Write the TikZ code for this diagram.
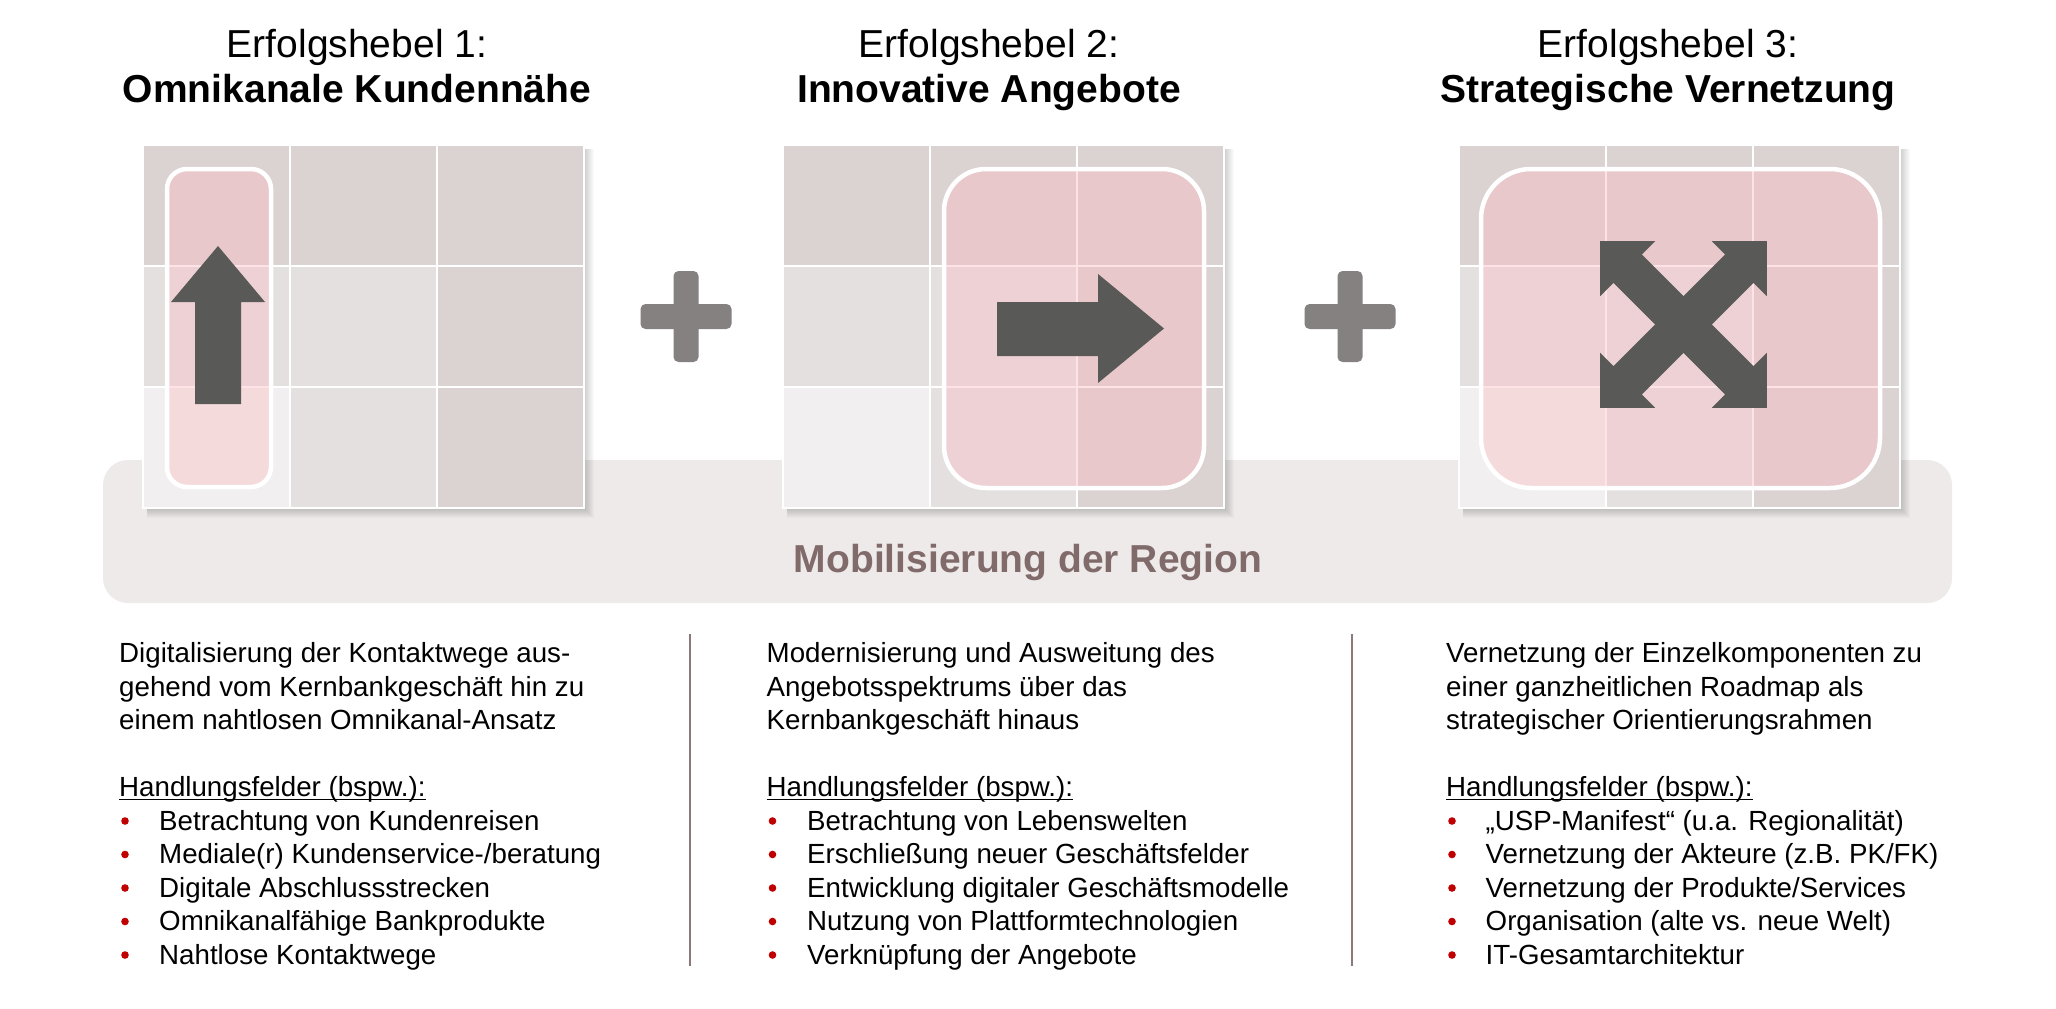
\documentclass[tikz,border=0pt]{standalone}
\usepackage{fontspec}
\setmainfont{Liberation Sans}
\usetikzlibrary{calc}
\definecolor{cellD}{RGB}{219,210,210}
\definecolor{cellM}{RGB}{228,224,224}
\definecolor{cellL}{RGB}{241,239,239}
\definecolor{pinkov}{RGB}{251,188,195}
\definecolor{arrowgray}{RGB}{89,89,87}
\definecolor{plusgray}{RGB}{133,129,128}
\definecolor{bandfill}{RGB}{238,234,234}
\definecolor{bandtext}{RGB}{128,106,106}
\definecolor{sepline}{RGB}{139,120,120}
\definecolor{bulletred}{RGB}{192,0,0}
\newcommand{\bodyfnt}{\fontsize{27.7}{33.5}\selectfont}
\newcommand{\headfnt}{\fontsize{39}{45}\selectfont}
\newcommand{\headbfnt}{\fontsize{39}{45}\selectfont\bfseries}
\newcommand{\drawgrid}[2]{%
  \foreach \k in {1,...,10} {\fill[black, opacity=0.02] (#1+4,#2+4) rectangle (#1+441+\k,#2+363+\k);}
  \fill[cellD] (#1,#2) rectangle ++(441,363);
  \fill[cellM] (#1,#2+121) rectangle ++(294,121);
  \fill[cellM] (#1+147,#2+242) rectangle ++(147,121);
  \fill[cellL] (#1,#2+242) rectangle ++(147,121);
  \draw[gridline] (#1,#2) rectangle ++(441,363);
  \draw[gridline] (#1+147,#2) -- ++(0,363) (#1+294,#2) -- ++(0,363)
                  (#1,#2+121) -- ++(441,0) (#1,#2+242) -- ++(441,0);
}
\tikzset{
  bodytxt/.style={anchor=base west, inner sep=0pt, font=\bodyfnt},
  headtxt/.style={anchor=base, inner sep=0pt, font=\headfnt},
  headbold/.style={anchor=base, inner sep=0pt, font=\headbfnt},
  pinkbox/.style={fill=pinkov, fill opacity=0.41, draw=white, draw opacity=1, line width=4.5pt},
  gridline/.style={draw=white, line width=2pt},
  arrowshape/.style={fill=arrowgray, draw=none},
  plusbar/.style={fill=plusgray, rounded corners=5pt},
  bulletdot/.style={fill=bulletred, draw=none},
  sep/.style={draw=sepline, line width=2pt},
  uline/.style={line width=1.8pt},
}
\begin{document}
\begin{tikzpicture}[x=1pt,y=-1pt]
\useasboundingbox (0,0) rectangle (2056,1009);
\fill[white] (0,0) rectangle (2056,1009);

% band
\fill[bandfill, rounded corners=25pt] (103,460) rectangle (1952,603);
\node[headbold, text=bandtext] (band) at (1028,572) {Mobilisierung der Region};

% grids
\drawgrid{143}{145}
\drawgrid{783}{145}
\drawgrid{1459}{145}

% overlays
\draw[pinkbox, rounded corners=20pt] (167,169) rectangle (271,487);
\draw[pinkbox, rounded corners=42pt] (944,169) rectangle (1204,488);
\draw[pinkbox, rounded corners=50pt] (1481,169) rectangle (1880,488);

% arrows
\fill[arrowshape] (218,246) -- (265,302) -- (241,302) -- (241,404) -- (195,404) -- (195,302) -- (171,302) -- cycle;
\fill[arrowshape] (997,302) -- (1098,302) -- (1098,274) -- (1164,328.5) -- (1098,383) -- (1098,356) -- (997,356) -- cycle;
\foreach \r in {45,-45} {
  \begin{scope}[shift={(1683.5,324.5)}, rotate=\r]
    \fill[arrowshape] (118,0) -- (79,39) -- (79,20) -- (-79,20) -- (-79,39) -- (-118,0)
      -- (-79,-39) -- (-79,-20) -- (79,-20) -- (79,-39) -- cycle;
  \end{scope}
}

% plus signs
\foreach \cx in {686,1350} {
  \fill[plusbar] (\cx-12.5,271) rectangle (\cx+12.5,362);
  \fill[plusbar] (\cx-45.5,304) rectangle (\cx+45.5,329);
}

% titles
\node[headtxt] (t1a) at (357,57) {Erfolgshebel 1:};
\node[headbold] (t1b) at (357,102.5) {Omnikanale Kundennähe};
\node[headtxt] (t2a) at (989,57) {Erfolgshebel 2:};
\node[headbold] (t2b) at (989,102.5) {Innovative Angebote};
\node[headtxt] (t3a) at (1668,57) {Erfolgshebel 3:};
\node[headbold] (t3b) at (1668,102.5) {Strategische Vernetzung};

% separators
\draw[sep] (689.5,634) -- (689.5,966);
\draw[sep] (1351.5,634) -- (1351.5,966);

% column 1
\node[bodytxt] (a1) at (119,662.5) {Digitalisierung der Kontaktwege aus-};
\node[bodytxt] (a2) at (119,696) {gehend vom Kernbankgeschäft hin zu};
\node[bodytxt] (a3) at (119,729.5) {einem nahtlosen Omnikanal-Ansatz};
\node[bodytxt] (ah) at (119,796.5) {Handlungsfelder (bspw.):};
\draw[uline] ([yshift=-3pt]ah.base west) -- ([yshift=-3pt]ah.base east);
\node[bodytxt] (ai1) at (159,830) {Betrachtung von Kundenreisen};
\node[bodytxt] (ai2) at (159,863.5) {Mediale(r) Kundenservice-/beratung};
\node[bodytxt] (ai3) at (159,897) {Digitale Abschlussstrecken};
\node[bodytxt] (ai4) at (159,930.5) {Omnikanalfähige Bankprodukte};
\node[bodytxt] (ai5) at (159,964) {Nahtlose Kontaktwege};

% column 2
\node[bodytxt] (b1) at (766.5,662.5) {Modernisierung und Ausweitung des};
\node[bodytxt] (b2) at (766.5,696) {Angebotsspektrums über das};
\node[bodytxt] (b3) at (766.5,729.5) {Kernbankgeschäft hinaus};
\node[bodytxt] (bh) at (766.5,796.5) {Handlungsfelder (bspw.):};
\draw[uline] ([yshift=-3pt]bh.base west) -- ([yshift=-3pt]bh.base east);
\node[bodytxt] (bi1) at (807,830) {Betrachtung von Lebenswelten};
\node[bodytxt] (bi2) at (807,863.5) {Erschließung neuer Geschäftsfelder};
\node[bodytxt] (bi3) at (807,897) {Entwicklung digitaler Geschäftsmodelle};
\node[bodytxt] (bi4) at (807,930.5) {Nutzung von Plattformtechnologien};
\node[bodytxt] (bi5) at (807,964) {Verknüpfung der Angebote};

% column 3
\node[bodytxt] (c1) at (1446,662.5) {Vernetzung der Einzelkomponenten zu};
\node[bodytxt] (c2) at (1446,696) {einer ganzheitlichen Roadmap als};
\node[bodytxt] (c3) at (1446,729.5) {strategischer Orientierungsrahmen};
\node[bodytxt] (ch) at (1446,796.5) {Handlungsfelder (bspw.):};
\draw[uline] ([yshift=-3pt]ch.base west) -- ([yshift=-3pt]ch.base east);
\node[bodytxt] (ci1) at (1485.5,830) {„USP-Manifest“ (u.a. Regionalität)};
\node[bodytxt] (ci2) at (1485.5,863.5) {Vernetzung der Akteure (z.B. PK/FK)};
\node[bodytxt] (ci3) at (1485.5,897) {Vernetzung der Produkte/Services};
\node[bodytxt] (ci4) at (1485.5,930.5) {Organisation (alte vs. neue Welt)};
\node[bodytxt] (ci5) at (1485.5,964) {IT-Gesamtarchitektur};

% bullets
\foreach \bx in {125,772.5,1452} {
  \foreach \by in {830,863.5,897,930.5,964} {
    \fill[bulletdot] (\bx,\by-9) circle (3.8pt);
  }
}
\end{tikzpicture}
\end{document}
